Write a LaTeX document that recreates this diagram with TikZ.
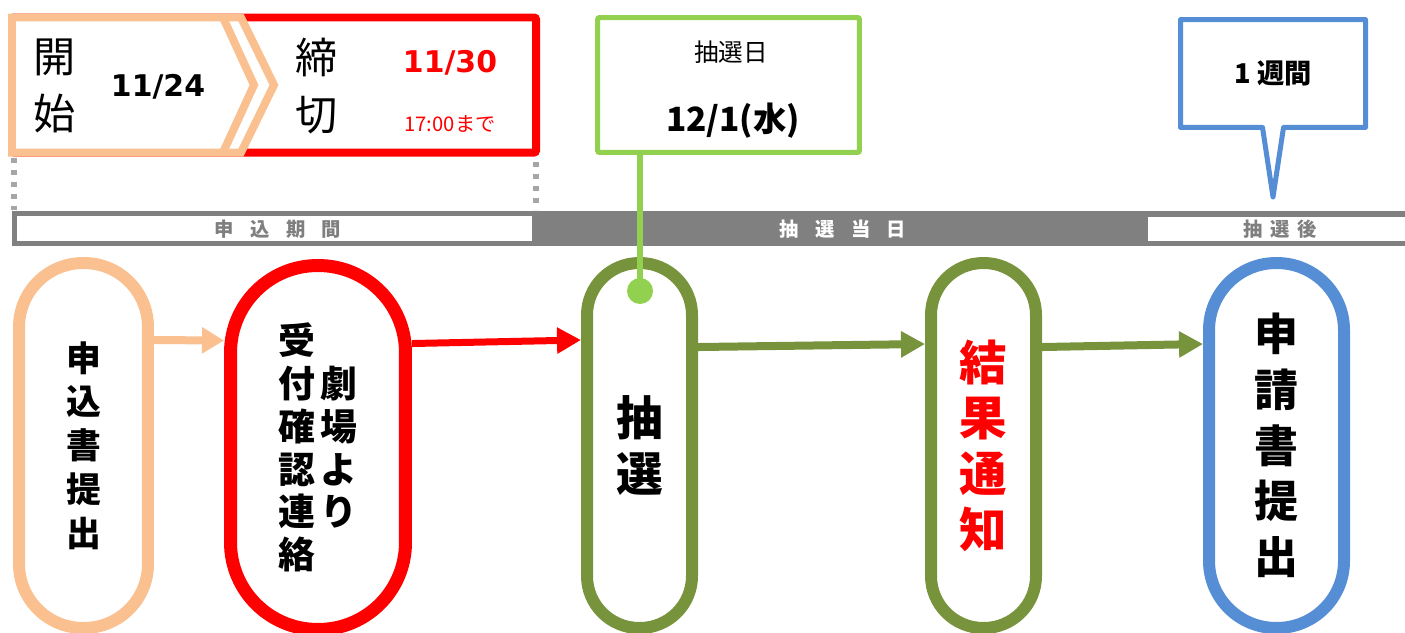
\documentclass[tikz,border=0pt]{standalone}
\usepackage{fontspec}
\setmainfont{Noto Sans CJK JP}
\newfontfamily\verd{DejaVu Sans}
\usepackage{tikz}
\usetikzlibrary{arrows.meta,positioning,shapes.callouts}

\definecolor{peach}{HTML}{FAC090}
\definecolor{olive}{HTML}{77933C}
\definecolor{leaf}{HTML}{92D050}
\definecolor{sky}{HTML}{558ED5}
\definecolor{bargray}{HTML}{808080}
\definecolor{bartext}{HTML}{7F7F7F}
\definecolor{dotgray}{HTML}{A6A6A6}

\begin{document}
\begin{tikzpicture}[x=0.02cm, y=-0.02cm,
    oval/.style={rectangle, draw, fill=white, inner sep=0pt, align=center},
    flow/.style={line width=0.16cm, -{Triangle[length=0.48cm,width=0.5cm]}},
    tag/.style={font=\fontsize{11pt}{12pt}\selectfont\bfseries}]
    \useasboundingbox (0,0) rectangle (1405,632);

    % period bar
    \fill[bargray] (12,211) rectangle (1410,246);
    \fill[white] (17,216) rectangle (532,241);
    \fill[white] (1148,217) rectangle (1410,241);
    \node (term) [tag, text=bartext] at (278,229) {申\hspace{0.85em}込\hspace{0.85em}期\hspace{0.85em}間};
    \node (today) [tag, text=white] at (843,229) {抽\hspace{0.85em}選\hspace{0.85em}当\hspace{0.85em}日};
    \node (after) [tag, text=bartext] at (1280,229) {抽\hspace{0.4em}選\hspace{0.4em}後};

    \draw [dotgray, line width=0.11cm, dash pattern=on 0.1cm off 0.14cm] (14,158) -- (14,210);
    \draw [dotgray, line width=0.11cm, dash pattern=on 0.1cm off 0.14cm] (536,162) -- (536,210);

    % start / deadline
    \draw [red, line width=0.16cm, rounded corners=0.04cm] (12,17.5) rectangle (536,152.5);
    \draw [peach, line width=0.16cm, fill=white] (12,17.5) -- (241,17.5) -- (274,85) -- (241,152.5) -- (12,152.5) -- cycle;
    \draw [peach, line width=0.16cm] (223,17.5) -- (254,85) -- (223,152.5);
    \node (start) [align=center, font=\fontsize{24pt}{32.3pt}\selectfont] at (55,86) {開\\始};
    \node (startdate) [font=\verd\bfseries\fontsize{17pt}{20pt}\selectfont] at (158,87) {11/24};
    \node (close) [align=center, font=\fontsize{24pt}{32.3pt}\selectfont] at (317,86) {締\\切};
    \node (closedate) [text=red, font=\verd\bfseries\fontsize{17pt}{20pt}\selectfont] at (450,63) {11/30};
    \node (closetime) [text=red, font=\fontsize{11.5pt}{13pt}\selectfont] at (450,124) {17:00まで};

    % lottery day
    \node (drawday) [draw=leaf, line width=0.1cm, minimum width=5.24cm, minimum height=2.7cm, rounded corners=0.04cm] at (728.5,85) {};
    \node (drawlabel) [font=\fontsize{14pt}{16pt}\selectfont] at (731,52) {抽選日};
    \node (drawdate) [font=\bfseries\fontsize{19pt}{22pt}\selectfont] at (733,121) {12/1(水)};

    % one week
    \node (week) [rectangle callout, draw=sky, line width=0.1cm, line join=round, fill=white, minimum width=3.7cm, minimum height=2.16cm, callout absolute pointer={(1273,197)}, callout pointer width=0.42cm, font=\bfseries\fontsize{15.5pt}{18pt}\selectfont] at (1273,73.5) {1 週間};

    % steps
    \node (submit) [oval, draw=peach, line width=0.24cm, minimum width=2.58cm, minimum height=7.3cm, rounded corners=1.28cm, font=\bfseries\fontsize{19.8pt}{24.9pt}\selectfont] at (83.5,445.5) {申\\込\\書\\提\\出};
    \node (confirm) [oval, draw=red, line width=0.26cm, minimum width=3.5cm, minimum height=7.28cm, rounded corners=1.74cm, font=\bfseries\fontsize{21pt}{24.4pt}\selectfont] at (318,447.5) {受\hspace{0.12cm}\phantom{劇}\\付\hspace{0.12cm}劇\\確\hspace{0.12cm}場\\認\hspace{0.12cm}よ\\連\hspace{0.12cm}り\\絡\hspace{0.12cm}\phantom{劇}};
    \node (lottery) [oval, draw=olive, line width=0.24cm, minimum width=2.1cm, minimum height=7.3cm, rounded corners=1.04cm, font=\bfseries\fontsize{26.6pt}{32.3pt}\selectfont] at (639.5,445.5) {抽\\選};
    \node (result) [oval, draw=olive, text=red, line width=0.24cm, minimum width=2.1cm, minimum height=7.3cm, rounded corners=1.04cm, font=\bfseries\fontsize{27pt}{31.7pt}\selectfont] at (983.5,445.5) {結\\果\\通\\知};
    \node (apply) [oval, draw=sky, line width=0.24cm, minimum width=2.7cm, minimum height=7.3cm, rounded corners=1.34cm, font=\bfseries\fontsize{25pt}{31.7pt}\selectfont] at (1276.5,445.5) {申\\請\\書\\提\\出};

    \draw [flow, peach, -{Triangle[length=0.44cm,width=0.5cm]}] ([yshift=2.11cm]submit.east) -- ([yshift=2.14cm]confirm.west);
    \draw [flow, red, line width=0.14cm] ([yshift=2.08cm]confirm.east) -- ([yshift=2.11cm]lottery.west);
    \draw [flow, olive] ([yshift=1.97cm]lottery.east) -- ([yshift=2.03cm]result.west);
    \draw [flow, olive] ([yshift=1.97cm]result.east) -- ([yshift=2.03cm]apply.west);

    \node (lotdot) [circle, fill=leaf, inner sep=0pt, minimum size=0.52cm] at (640,291) {};
    \draw [leaf, line width=0.12cm] (drawday.south -| lotdot) -- (lotdot.center);
\end{tikzpicture}
\end{document}
